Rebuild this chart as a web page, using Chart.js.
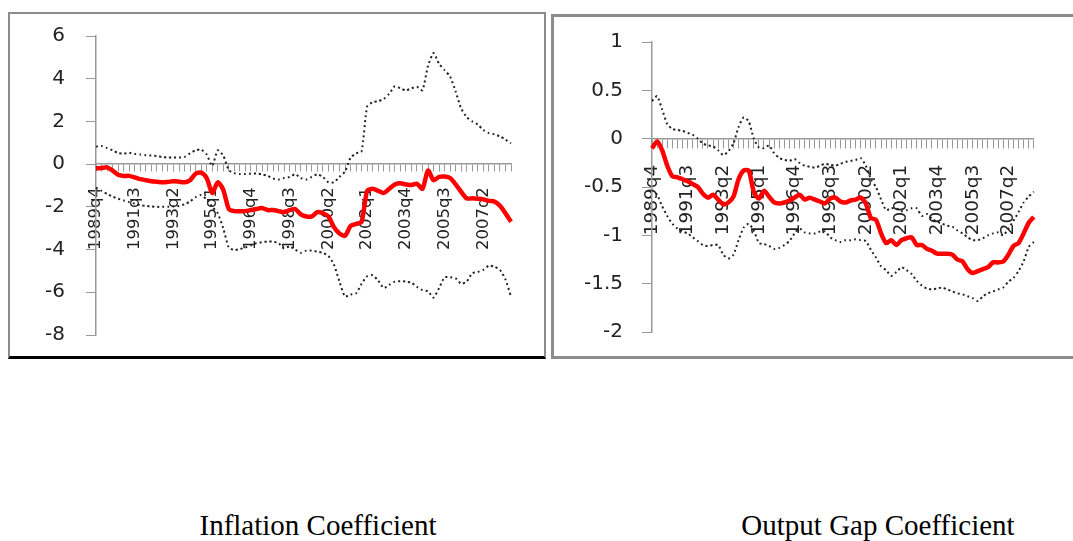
<!DOCTYPE html>
<html>
<head>
<meta charset="utf-8">
<script src="https://cdn.jsdelivr.net/npm/chart.js@4.4.1/dist/chart.umd.min.js"></script>
<style>
  html, body { margin: 0; padding: 0; background: #fff; overflow: hidden; }
  body { width: 1073px; height: 541px; position: relative; }
  .box { position: absolute; box-sizing: border-box; }
  #boxL { left: 8px; top: 12px; width: 538px; height: 347px; border: 2px solid #8c8c8c; border-bottom: 3px solid #000; }
  #boxR { left: 551px; top: 14px; width: 540px; height: 345px; border: 3px solid #8c8c8c; }
  canvas { position: absolute; top: 0; }
  #chartL { left: 0; }
  #chartR { left: 548px; }
  .cap { position: absolute; top: 511px; line-height: 29px; font-family: "Liberation Serif", "Times New Roman", serif; font-size: 29px; color: #000; white-space: nowrap; transform: translateX(-50%); }
</style>
</head>
<body>
<div class="box" id="boxL"></div>
<div class="box" id="boxR"></div>
<canvas id="chartL" width="548" height="358"></canvas>
<canvas id="chartR" width="525" height="358"></canvas>
<div class="cap" style="left:318px">Inflation Coefficient</div>
<div class="cap" style="left:878px">Output Gap Coefficient</div>
<script>
// quarters on the x axis
var quarters = ['1989q4',
  '1990q1','1990q2','1990q3','1990q4','1991q1','1991q2','1991q3','1991q4',
  '1992q1','1992q2','1992q3','1992q4','1993q1','1993q2','1993q3','1993q4',
  '1994q1','1994q2','1994q3','1994q4','1995q1','1995q2','1995q3','1995q4',
  '1996q1','1996q2','1996q3','1996q4','1997q1','1997q2','1997q3','1997q4',
  '1998q1','1998q2','1998q3','1998q4','1999q1','1999q2','1999q3','1999q4',
  '2000q1','2000q2','2000q3','2000q4','2001q1','2001q2','2001q3','2001q4',
  '2002q1','2002q2','2002q3','2002q4','2003q1','2003q2','2003q3','2003q4',
  '2004q1','2004q2','2004q3','2004q4','2005q1','2005q2','2005q3','2005q4',
  '2006q1','2006q2','2006q3','2006q4','2007q1','2007q2','2007q3','2007q4',
  '2008q1','2008q2','2008q3'];
var labelEvery = 7;

// inflation coefficient and its bands
var inflMid = [-0.2,-0.18,-0.15,-0.3,-0.5,-0.55,-0.55,-0.62,-0.7,-0.75,
  -0.8,-0.82,-0.85,-0.83,-0.8,-0.82,-0.85,-0.75,-0.45,-0.4,
  -0.65,-1.35,-0.85,-1.2,-2.1,-2.2,-2.2,-2.2,-2.15,-2.1,
  -2.05,-2.15,-2.15,-2.2,-2.25,-2.15,-2.1,-2.35,-2.45,-2.45,
  -2.25,-2.3,-2.45,-2.95,-3.25,-3.35,-2.9,-2.8,-2.7,-1.25,
  -1.15,-1.25,-1.35,-1.15,-0.95,-0.9,-0.95,-0.98,-0.92,-1.15,
  -0.3,-0.75,-0.6,-0.58,-0.65,-0.95,-1.3,-1.6,-1.6,-1.62,
  -1.65,-1.72,-1.75,-1.95,-2.3,-2.7];
var inflUp = [0.82,0.85,0.75,0.65,0.52,0.5,0.53,0.48,0.45,0.42,
  0.4,0.38,0.33,0.31,0.31,0.31,0.34,0.5,0.65,0.68,
  0.45,-0.08,0.65,0.4,-0.28,-0.42,-0.46,-0.46,-0.45,-0.44,
  -0.48,-0.55,-0.67,-0.72,-0.65,-0.6,-0.47,-0.65,-0.72,-0.6,
  -0.48,-0.6,-0.85,-0.85,-0.6,-0.35,0.3,0.5,0.6,2.7,
  2.9,2.95,3.05,3.3,3.65,3.55,3.45,3.55,3.62,3.46,
  4.6,5.2,4.7,4.4,4.1,3.4,2.6,2.2,2.0,1.85,
  1.6,1.45,1.4,1.3,1.15,0.97];
var inflLow = [-1.1,-1.25,-1.4,-1.52,-1.62,-1.7,-1.78,-1.85,-1.92,-1.96,
  -1.98,-2.0,-2.0,-2.0,-1.98,-1.96,-1.88,-1.75,-1.55,-1.45,
  -1.65,-2.0,-2.3,-3.0,-3.9,-4.02,-3.98,-3.9,-3.8,-3.7,
  -3.65,-3.63,-3.63,-3.7,-3.95,-3.85,-4.0,-4.15,-4.05,-4.05,
  -4.1,-4.15,-4.3,-4.7,-5.5,-6.2,-6.1,-6.05,-5.6,-5.25,
  -5.2,-5.45,-5.8,-5.65,-5.5,-5.48,-5.5,-5.55,-5.75,-5.9,
  -5.95,-6.25,-5.8,-5.3,-5.3,-5.35,-5.6,-5.5,-5.1,-5.05,
  -4.95,-4.75,-4.8,-4.95,-5.4,-6.2];

// output gap coefficient and its bands
var gapMid = [-0.1,-0.03,-0.12,-0.28,-0.39,-0.4,-0.42,-0.44,-0.47,-0.5,
  -0.57,-0.61,-0.58,-0.63,-0.68,-0.66,-0.6,-0.42,-0.33,-0.33,
  -0.55,-0.62,-0.54,-0.6,-0.66,-0.67,-0.66,-0.64,-0.61,-0.58,
  -0.63,-0.61,-0.63,-0.65,-0.67,-0.62,-0.61,-0.65,-0.66,-0.64,
  -0.63,-0.61,-0.67,-0.82,-0.84,-0.98,-1.08,-1.05,-1.1,-1.05,
  -1.03,-1.02,-1.1,-1.1,-1.14,-1.16,-1.19,-1.19,-1.19,-1.2,
  -1.25,-1.27,-1.35,-1.39,-1.37,-1.35,-1.33,-1.28,-1.28,-1.27,
  -1.2,-1.11,-1.08,-0.98,-0.87,-0.81];
var gapUp = [0.39,0.44,0.3,0.15,0.1,0.09,0.08,0.06,0.04,0.0,
  -0.05,-0.07,-0.08,-0.12,-0.17,-0.13,-0.05,0.12,0.22,0.18,
  0.0,-0.09,-0.1,-0.07,-0.15,-0.2,-0.22,-0.23,-0.21,-0.25,
  -0.28,-0.29,-0.3,-0.28,-0.26,-0.27,-0.28,-0.26,-0.24,-0.23,
  -0.22,-0.2,-0.28,-0.42,-0.5,-0.63,-0.74,-0.72,-0.72,-0.75,
  -0.74,-0.72,-0.72,-0.8,-0.78,-0.83,-0.86,-0.88,-0.9,-0.91,
  -0.95,-0.98,-1.02,-1.05,-1.05,-1.03,-1.0,-0.98,-0.97,-1.0,
  -0.93,-0.85,-0.76,-0.66,-0.6,-0.55];
var gapLow = [-0.53,-0.58,-0.7,-0.8,-0.88,-0.93,-0.96,-0.98,-1.02,-1.06,
  -1.1,-1.11,-1.1,-1.1,-1.2,-1.24,-1.2,-1.05,-0.92,-0.88,
  -0.95,-1.08,-1.09,-1.11,-1.14,-1.13,-1.1,-1.06,-0.98,-0.93,
  -0.97,-0.98,-0.98,-0.96,-0.96,-1.02,-1.05,-1.07,-1.05,-1.05,
  -1.04,-1.05,-1.06,-1.15,-1.23,-1.32,-1.36,-1.42,-1.38,-1.33,
  -1.36,-1.4,-1.47,-1.52,-1.55,-1.56,-1.55,-1.54,-1.56,-1.58,
  -1.6,-1.61,-1.63,-1.65,-1.68,-1.63,-1.6,-1.58,-1.56,-1.54,
  -1.48,-1.44,-1.37,-1.27,-1.12,-1.07];

var inflTicks = {min: -8, max: 6, step: 2};
var gapTicks = {min: -2, max: 1, step: 0.5};

function dotted(data){
    return {
        data: data,
        borderColor: '#222',
        borderWidth: 2,
        borderDash: [2, 3],
        pointRadius: 0,
        tension: 0.2,
        fill: false
    };
}

function coefChart(id, mid, up, low, t, lay){
    const ctx = document.getElementById(id);
    return new Chart(ctx, {
      type: 'line',
      data: {
        labels: quarters,
        datasets: [
          { data: mid, borderColor: '#ff0000', borderWidth: 4.5, pointRadius: 0, tension: 0.25, fill: false },
          dotted(up),
          dotted(low)
        ]
      },
      options: {
        responsive: false,
        animation: false,
        devicePixelRatio: 1,
        layout: { padding: lay.pad },
        plugins: { legend: { display: false }, tooltip: { enabled: false } },
        scales: {
          x: {
            position: { y: 0 },
            offset: false,
            grid: { drawOnChartArea: false, drawTicks: true, tickLength: lay.xTick, color: '#999' },
            border: { color: '#999', width: 1.5 },
            ticks: {
              autoSkip: false,
              maxRotation: 90,
              minRotation: 90,
              padding: lay.xPad,
              color: '#222',
              font: { family: 'DejaVu Sans', size: lay.xFont },
              callback: function(value, index){
                  return index % labelEvery === 0 ? quarters[index] : '';
              }
            }
          },
          y: {
            min: t.min,
            max: t.max,
            afterFit: function(scale){
                scale.width = lay.yWidth;
                // keep the plot area where the padding puts it
                scale.paddingTop = 0;
                scale.paddingBottom = 0;
            },
            grid: { drawOnChartArea: false, drawTicks: true, tickLength: 10, color: '#999' },
            border: { color: '#999', width: 1.5 },
            ticks: {
              stepSize: t.step,
              padding: lay.yPad,
              color: '#222',
              font: { family: 'DejaVu Sans', size: lay.yFont },
              callback: function(value){
                  return String(Math.round(value * 10) / 10);
              }
            }
          }
        }
      }
    });
}

coefChart('chartL', inflMid, inflUp, inflLow, inflTicks,
    { pad: { left: 0, top: 36, right: 37, bottom: 23 }, yWidth: 96, yPad: 21, yFont: 20, xFont: 16.5, xPad: 16, xTick: 7 });
coefChart('chartR', gapMid, gapUp, gapLow, gapTicks,
    { pad: { left: 0, top: 42, right: 22, bottom: 26 }, yWidth: 104, yPad: 19, yFont: 20, xFont: 18.5, xPad: 17, xTick: 9 });
</script>
</body>
</html>
